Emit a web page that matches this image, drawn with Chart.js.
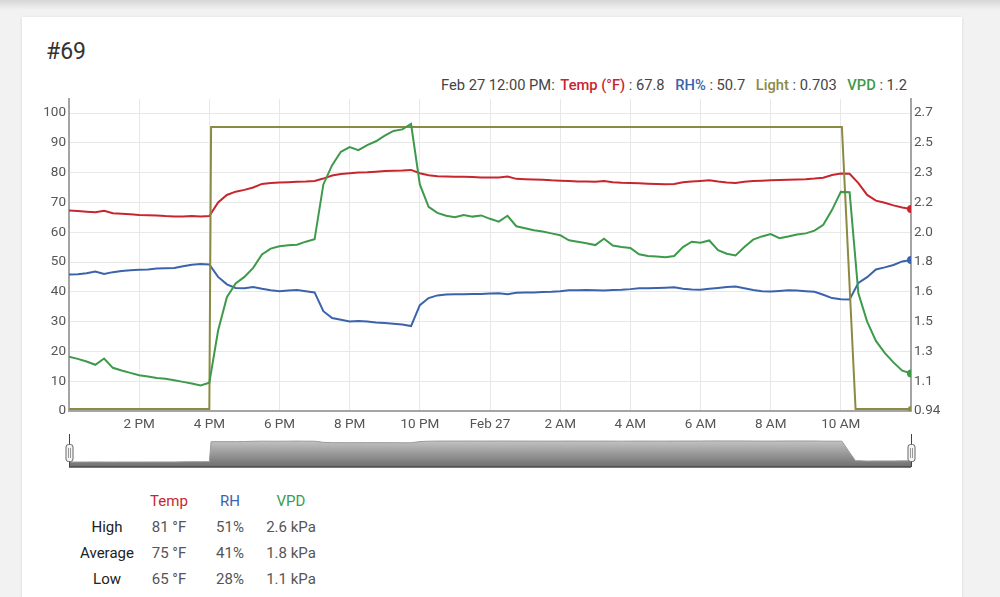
<!DOCTYPE html>
<html>
<head>
<meta charset="utf-8">
<script src="https://cdn.jsdelivr.net/npm/chart.js@4.4.1/dist/chart.umd.min.js"></script>
<style>
  html, body { margin: 0; padding: 0; }
  body { width: 1000px; height: 597px; overflow: hidden; position: relative; background: #f2f2f2; font-family: Roboto, "Noto Sans", sans-serif; }
  .topbar { position: absolute; left: 0; top: 0; width: 1000px; height: 10px; background: linear-gradient(#d6d6d6, #f2f2f2); }
  .card { position: absolute; left: 22px; top: 17px; width: 940px; height: 600px; background: #fff; box-shadow: 0 1px 3px rgba(0,0,0,0.12); }
  .title { position: absolute; left: 46px; top: 38px; font-size: 23px; color: #333; }
  .legend { position: absolute; right: 93px; top: 76px; font-size: 14.7px; color: #444; white-space: nowrap; }
  .legend b { font-weight: 500; margin-left: 7px; }
  #main { position: absolute; left: 0; top: 88px; }
  #nav { position: absolute; left: 55px; top: 430px; }
  .stat { position: absolute; font-size: 15px; line-height: 18px; color: #555; transform: translateX(-50%); white-space: nowrap; }
</style>
</head>
<body>
<div class="topbar"></div>
<div class="card"></div>
<div class="title">#69</div>
<div class="legend" id="legend"></div>
<canvas id="main" width="1000" height="344"></canvas>
<canvas id="nav" width="870" height="42"></canvas>
<div id="stats"></div>
<script>
// time axis in hours since Feb 26 12:00 PM
const hours = [0, 0.25, 0.5, 0.75, 1, 1.25, 1.5, 1.75, 2, 2.25, 2.5, 2.75, 3, 3.25, 3.5, 3.75,
  4, 4.25, 4.5, 4.75, 5, 5.25, 5.5, 5.75, 6, 6.25, 6.5, 6.75, 7, 7.25, 7.5, 7.75,
  8, 8.25, 8.5, 8.75, 9, 9.25, 9.5, 9.75, 10, 10.25, 10.5, 10.75, 11, 11.25, 11.5, 11.75,
  12, 12.25, 12.5, 12.75, 13, 13.25, 13.5, 13.75, 14, 14.25, 14.5, 14.75, 15, 15.25, 15.5, 15.75,
  16, 16.25, 16.5, 16.75, 17, 17.25, 17.5, 17.75, 18, 18.25, 18.5, 18.75, 19, 19.25, 19.5, 19.75,
  20, 20.25, 20.5, 20.75, 21, 21.25, 21.5, 21.75, 22, 22.25, 22.5, 22.75, 23, 23.25, 23.5, 23.75, 24];

const tempF = [67.3, 67.1, 66.9, 66.7, 67.2, 66.4, 66.2, 66.0, 65.8, 65.7, 65.6, 65.4, 65.3, 65.3, 65.4, 65.3,
  65.4, 70.0, 72.5, 73.6, 74.2, 75.0, 76.2, 76.5, 76.7, 76.8, 76.9, 77.0, 77.2, 78.0, 79.0, 79.5,
  79.8, 80.0, 80.1, 80.3, 80.5, 80.6, 80.7, 80.9, 79.8, 79.1, 78.8, 78.7, 78.6, 78.6, 78.5, 78.4,
  78.4, 78.4, 78.7, 77.9, 77.8, 77.7, 77.6, 77.4, 77.3, 77.2, 77.0, 77.0, 76.9, 77.2, 76.8, 76.6,
  76.5, 76.4, 76.3, 76.2, 76.1, 76.2, 76.8, 77.0, 77.2, 77.4, 77.0, 76.7, 76.5, 76.9, 77.2, 77.3,
  77.4, 77.5, 77.6, 77.7, 77.8, 78.0, 78.3, 79.2, 79.7, 79.6, 76.5, 72.5, 70.6, 69.9, 69.0, 68.3, 67.8];

const rhPct = [45.8, 45.9, 46.2, 46.8, 46.0, 46.6, 47.0, 47.2, 47.4, 47.5, 47.8, 47.9, 48.0, 48.6, 49.1, 49.3,
  49.2, 45.0, 42.5, 41.3, 41.2, 41.6, 41.0, 40.5, 40.2, 40.4, 40.6, 40.2, 39.8, 33.5, 31.2, 30.6,
  30.0, 30.2, 30.0, 29.7, 29.5, 29.3, 29.0, 28.5, 35.5, 37.9, 38.8, 39.1, 39.2, 39.2, 39.3, 39.3,
  39.4, 39.5, 39.2, 39.7, 39.8, 39.8, 39.9, 40.0, 40.2, 40.5, 40.5, 40.6, 40.5, 40.4, 40.6, 40.7,
  40.9, 41.2, 41.2, 41.3, 41.4, 41.5, 41.0, 40.8, 40.7, 41.0, 41.3, 41.6, 41.8, 41.2, 40.6, 40.2,
  40.1, 40.3, 40.5, 40.4, 40.2, 40.0, 39.0, 37.9, 37.5, 37.4, 43.0, 44.9, 47.5, 48.2, 49.0, 50.2, 50.7];

const vpdKpa = [1.260, 1.248, 1.232, 1.213, 1.250, 1.195, 1.179, 1.165, 1.151, 1.144, 1.135, 1.130, 1.121, 1.112, 1.102, 1.091,
  1.107, 1.415, 1.612, 1.693, 1.732, 1.785, 1.864, 1.899, 1.913, 1.919, 1.922, 1.940, 1.954, 2.278, 2.392, 2.471,
  2.499, 2.480, 2.510, 2.533, 2.566, 2.594, 2.603, 2.635, 2.278, 2.146, 2.110, 2.093, 2.084, 2.098, 2.088, 2.095,
  2.075, 2.058, 2.093, 2.031, 2.019, 2.007, 2.000, 1.989, 1.978, 1.948, 1.940, 1.931, 1.920, 1.957, 1.917, 1.908,
  1.903, 1.866, 1.855, 1.852, 1.848, 1.855, 1.908, 1.940, 1.934, 1.947, 1.890, 1.869, 1.859, 1.908, 1.952, 1.971,
  1.985, 1.961, 1.971, 1.982, 1.989, 2.005, 2.040, 2.128, 2.234, 2.232, 1.635, 1.468, 1.354, 1.283, 1.227, 1.178, 1.162];

// light is on/off, so it gets its own breakpoints
const lightHours = [0, 4.0, 4.05, 22.03, 22.42, 24];
const lightVals = [0.7, 0.7, 95.3, 95.3, 0.703, 0.703];

const xTickValues = [0, 2, 4, 6, 8, 10, 12, 14, 16, 18, 20, 22, 24];
const xTickLabels = ['', '2 PM', '4 PM', '6 PM', '8 PM', '10 PM', 'Feb 27', '2 AM', '4 AM', '6 AM', '8 AM', '10 AM', ''];
const leftTicks = [0, 10, 20, 30, 40, 50, 60, 70, 80, 90, 100];
const rightTicks = [0.94, 1.116, 1.292, 1.468, 1.644, 1.82, 1.996, 2.172, 2.348, 2.524, 2.7];
const rightTickLabels = ['0.94', '1.1', '1.3', '1.5', '1.6', '1.8', '2.0', '2.2', '2.3', '2.5', '2.7'];

const statRows = ['High', 'Average', 'Low'];
const tempStats = ['81 °F', '75 °F', '65 °F'];
const rhStats = ['51%', '41%', '28%'];
const vpdStats = ['2.6 kPa', '1.8 kPa', '1.1 kPa'];

const RED = '#c8262f', BLUE = '#3b63ab', OLIVE = '#8c8a42', GREEN = '#3e9a4b';
const FONT = 'Roboto, "Noto Sans", sans-serif';

const pts = (xs, ys) => xs.map((x, i) => ({ x: x, y: ys[i] }));
const lastDot = r => ctx => ctx.dataIndex === ctx.dataset.data.length - 1 ? r : 0;

// header legend, values from the last point
const last = a => a[a.length - 1];
document.getElementById('legend').innerHTML =
  'Feb 27 12:00 PM: ' +
  '<b style="color:' + RED + ';margin-left:2px">Temp (°F)</b> : ' + last(tempF).toFixed(1) +
  ' <b style="color:' + BLUE + '">RH%</b> : ' + last(rhPct).toFixed(1) +
  ' <b style="color:' + OLIVE + '">Light</b> : ' + last(lightVals) +
  ' <b style="color:' + GREEN + '">VPD</b> : ' + last(vpdKpa).toFixed(1);

new Chart(document.getElementById('main'), {
  type: 'line',
  data: {
    datasets: [
      { data: pts(hours, vpdKpa), yAxisID: 'y1', borderColor: GREEN, backgroundColor: GREEN, pointRadius: lastDot(4) },
      { data: pts(lightHours, lightVals), yAxisID: 'y', borderColor: OLIVE, backgroundColor: OLIVE, pointRadius: lastDot(3) },
      { data: pts(hours, rhPct), yAxisID: 'y', borderColor: BLUE, backgroundColor: BLUE, pointRadius: lastDot(4) },
      { data: pts(hours, tempF), yAxisID: 'y', borderColor: RED, backgroundColor: RED, pointRadius: lastDot(4) }
    ]
  },
  options: {
    responsive: false,
    animation: false,
    layout: { padding: { top: 9 } },
    plugins: { legend: { display: false }, tooltip: { enabled: false } },
    elements: { line: { tension: 0, borderWidth: 2 }, point: { borderWidth: 0, hoverRadius: 0 } },
    scales: {
      x: {
        type: 'linear', min: 0, max: 24,
        afterBuildTicks: s => { s.ticks = xTickValues.map(v => ({ value: v })); },
        afterFit: s => { s.height = 21; },
        ticks: { callback: (v, i) => xTickLabels[i], color: '#555', font: { family: FONT, size: 13.5 }, padding: 6, maxRotation: 0, autoSkip: false },
        grid: { color: '#e8e8e8', drawTicks: false },
        border: { color: '#a5a5a5', width: 2 }
      },
      y: {
        position: 'left', min: 0, max: 104.67,
        afterBuildTicks: s => { s.ticks = leftTicks.map(v => ({ value: v })); },
        afterFit: s => { s.width = 69; },
        ticks: { color: '#555', font: { family: FONT, size: 13.5 }, padding: 3 },
        grid: { color: '#e8e8e8', drawTicks: false },
        border: { color: '#a5a5a5', width: 2 }
      },
      y1: {
        position: 'right', min: 0.94, max: 2.782,
        afterBuildTicks: s => { s.ticks = rightTicks.map(v => ({ value: v })); },
        afterFit: s => { s.width = 89; },
        ticks: { callback: (v, i) => rightTickLabels[i], color: '#555', font: { family: FONT, size: 13.5 }, padding: 3 },
        grid: { drawOnChartArea: false, drawTicks: false },
        border: { color: '#a5a5a5', width: 2 }
      }
    }
  }
});

// range selector: mean of temp, RH and light
function interp(xs, ys, x) {
  for (let i = 1; i < xs.length; i++) {
    if (x <= xs[i]) {
      const t = (x - xs[i - 1]) / (xs[i] - xs[i - 1]);
      return ys[i - 1] + t * (ys[i] - ys[i - 1]);
    }
  }
  return ys[ys.length - 1];
}
const navX = [...new Set(hours.concat(lightHours))].sort((a, b) => a - b);
const navData = navX.map(h => ({ x: h, y: (interp(hours, tempF, h) + interp(hours, rhPct, h) + interp(lightHours, lightVals, h)) / 3 }));

const handles = {
  id: 'handles',
  afterDraw(chart) {
    const { ctx, chartArea: a } = chart;
    ctx.save();
    ctx.strokeStyle = '#4a4a4a';
    ctx.lineWidth = 1.5;
    ctx.beginPath();
    ctx.moveTo(a.left, a.bottom);
    ctx.lineTo(a.right, a.bottom);
    ctx.stroke();
    const cy = a.top + 17;
    [a.left, a.right].forEach(x => {
      ctx.strokeStyle = '#444';
      ctx.lineWidth = 1;
      ctx.beginPath();
      ctx.moveTo(x + 0.5, a.top - 2);
      ctx.lineTo(x + 0.5, a.bottom);
      ctx.stroke();
      ctx.fillStyle = '#f4f4f4';
      ctx.strokeStyle = '#666';
      ctx.beginPath();
      ctx.roundRect(x - 3, cy - 8.5, 7, 17, 2.5);
      ctx.fill();
      ctx.stroke();
      ctx.strokeStyle = '#999';
      ctx.beginPath();
      ctx.moveTo(x - 0.5, cy - 5); ctx.lineTo(x - 0.5, cy + 5);
      ctx.moveTo(x + 1.5, cy - 5); ctx.lineTo(x + 1.5, cy + 5);
      ctx.stroke();
    });
    ctx.restore();
  }
};

new Chart(document.getElementById('nav'), {
  type: 'line',
  data: {
    datasets: [{
      data: navData,
      borderColor: '#9a9a9a',
      borderWidth: 1,
      pointRadius: 0,
      fill: 'start',
      backgroundColor: ctx => {
        const a = ctx.chart.chartArea;
        if (!a) return '#aaa';
        const g = ctx.chart.ctx.createLinearGradient(0, a.top, 0, a.bottom);
        g.addColorStop(0, '#d2d2d2');
        g.addColorStop(1, '#6e6e6e');
        return g;
      }
    }]
  },
  options: {
    responsive: false,
    animation: false,
    layout: { padding: { left: 14, right: 14, top: 6, bottom: 5 } },
    plugins: { legend: { display: false }, tooltip: { enabled: false } },
    elements: { line: { tension: 0 } },
    scales: {
      x: { type: 'linear', min: 0, max: 24, display: false },
      y: { min: 30, max: 79, display: false }
    }
  },
  plugins: [handles]
});

// stats table
const stats = document.getElementById('stats');
function put(text, x, y, color) {
  const d = document.createElement('div');
  d.className = 'stat';
  d.textContent = text;
  d.style.left = x + 'px';
  d.style.top = (y - 9) + 'px';
  if (color) d.style.color = color;
  stats.appendChild(d);
}
put('Temp', 169, 501, RED);
put('RH', 230, 501, BLUE);
put('VPD', 291, 501, GREEN);
statRows.forEach((r, i) => {
  const y = 527 + i * 26;
  put(r, 107, y, '#222');
  put(tempStats[i], 169, y);
  put(rhStats[i], 230, y);
  put(vpdStats[i], 291, y);
});
</script>
</body>
</html>
